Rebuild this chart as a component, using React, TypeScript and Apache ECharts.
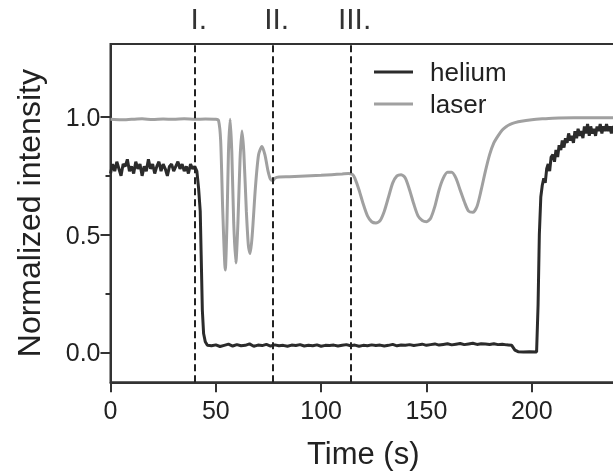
import React, { useEffect, useRef } from 'react';
import * as echarts from 'echarts';

// helium signal: [time (s), normalized intensity]
const heliumData: [number, number][] = [
  [0, 0.76], [1, 0.8], [2, 0.77], [3, 0.81], [4, 0.78], [5, 0.75], [6, 0.8], [7, 0.79], [8, 0.82], [9, 0.77],
  [10, 0.79], [11, 0.76], [12, 0.81], [13, 0.78], [14, 0.8], [15, 0.75], [16, 0.79], [17, 0.77], [18, 0.82], [19, 0.78],
  [20, 0.8], [21, 0.76], [22, 0.79], [23, 0.81], [24, 0.77], [25, 0.8], [26, 0.78], [27, 0.75], [28, 0.79], [29, 0.8],
  [30, 0.77], [31, 0.79], [32, 0.81], [33, 0.78], [34, 0.8], [35, 0.77], [36, 0.79], [37, 0.76], [38, 0.8], [39, 0.78],
  [40, 0.79], [41, 0.77], [41.8, 0.7], [42.6, 0.6], [43.2, 0.35], [43.6, 0.18], [44.2, 0.08], [45, 0.045], [46, 0.03],
  [48, 0.028], [50, 0.032], [52, 0.025], [54, 0.03], [56, 0.035], [58, 0.027], [60, 0.033], [62, 0.028], [64, 0.03],
  [66, 0.036], [68, 0.026], [70, 0.031], [72, 0.029], [74, 0.034], [76, 0.027], [78, 0.032], [80, 0.028], [82, 0.03],
  [84, 0.026], [86, 0.031], [88, 0.029], [90, 0.033], [92, 0.027], [94, 0.03], [96, 0.028], [98, 0.032], [100, 0.026],
  [102, 0.03], [104, 0.029], [106, 0.031], [108, 0.027], [110, 0.03], [112, 0.033], [114, 0.028], [116, 0.031],
  [118, 0.026], [120, 0.03], [122, 0.028], [124, 0.032], [126, 0.029], [128, 0.031], [130, 0.027], [132, 0.03],
  [134, 0.034], [136, 0.028], [138, 0.031], [140, 0.03], [142, 0.033], [144, 0.029], [146, 0.032], [148, 0.035],
  [150, 0.03], [152, 0.033], [154, 0.036], [156, 0.031], [158, 0.034], [160, 0.037], [162, 0.032], [164, 0.035],
  [166, 0.038], [168, 0.033], [170, 0.036], [172, 0.039], [174, 0.034], [176, 0.037], [178, 0.036], [180, 0.034],
  [182, 0.037], [184, 0.033], [186, 0.035], [188, 0.032], [190.5, 0.03], [192, 0.01], [193.5, 0.003], [196, 0.002],
  [199, 0.003], [202.3, 0.002], [203, 0.2], [203.6, 0.5], [204.3, 0.66], [205, 0.71], [205.7, 0.74], [206.4, 0.72],
  [207.1, 0.78], [207.8, 0.8], [208.5, 0.77], [209.2, 0.83], [210, 0.84], [210.8, 0.81], [211.5, 0.86], [212.3, 0.83],
  [213, 0.88], [213.8, 0.86], [214.5, 0.9], [215.3, 0.87], [216, 0.91], [216.8, 0.89], [217.5, 0.93], [218.3, 0.9],
  [219, 0.92], [219.8, 0.89], [220.5, 0.94], [221.3, 0.91], [222, 0.95], [222.8, 0.92], [223.5, 0.94], [224.3, 0.91],
  [225, 0.96], [225.8, 0.93], [226.5, 0.97], [227.3, 0.92], [228, 0.96], [228.8, 0.93], [229.5, 0.95], [230.3, 0.92],
  [231, 0.96], [231.8, 0.94], [232.5, 0.97], [233.3, 0.93], [234, 0.96], [234.8, 0.94], [235.5, 0.97], [236.3, 0.94],
  [237, 0.96], [237.8, 0.93], [238.5, 0.96], [239.3, 0.95], [240, 0.94],
];

// laser signal: [time (s), normalized intensity]
const laserData: [number, number][] = [
  [0, 0.99], [5, 0.988], [10, 0.99], [15, 0.992], [20, 0.989], [25, 0.991], [30, 0.99], [35, 0.992], [40, 0.99],
  [45, 0.991], [50, 0.99], [51.3, 0.985], [52.3, 0.9], [53.3, 0.6], [54.5, 0.35], [55.3, 0.55], [56, 0.85],
  [56.8, 0.99], [57.6, 0.85], [58.5, 0.55], [59.5, 0.38], [60.5, 0.55], [61.5, 0.82], [62.4, 0.94], [63.3, 0.85],
  [64.5, 0.6], [65.5, 0.45], [66.3, 0.42], [67.3, 0.5], [68.8, 0.7], [70.3, 0.84], [71.9, 0.875], [73.3, 0.84],
  [74.8, 0.77], [76, 0.735], [77.1, 0.73], [78, 0.74], [80, 0.745], [85, 0.746], [90, 0.748], [95, 0.75],
  [100, 0.752], [105, 0.755], [110, 0.758], [113, 0.76], [115, 0.755], [116, 0.74], [118, 0.69], [120, 0.63],
  [122, 0.58], [124, 0.555], [126, 0.55], [128, 0.56], [130, 0.6], [132, 0.66], [134, 0.72], [136, 0.75],
  [138, 0.755], [140, 0.74], [142, 0.69], [144, 0.63], [146, 0.58], [148, 0.56], [150, 0.555], [152, 0.57],
  [154, 0.62], [156, 0.69], [158, 0.74], [160, 0.765], [162, 0.765], [164, 0.74], [166, 0.69], [168, 0.64],
  [170, 0.6], [172, 0.595], [174, 0.62], [176, 0.69], [178, 0.77], [180, 0.84], [182, 0.89], [184, 0.92],
  [186, 0.945], [188, 0.96], [190, 0.97], [192, 0.976], [195, 0.982], [200, 0.988], [205, 0.992], [210, 0.995],
  [220, 0.997], [240, 0.997],
];

const markerTimes = [40, 77, 114];
const markerNames = ['I.', 'II.', 'III.'];
const xTickValues = [0, 50, 100, 150, 200];
const yLabelValues = [0, 0.5, 1];
const yMinorValues = [0.25, 0.75];

const FONT = '"Liberation Sans", Arial, Helvetica, sans-serif';
const INK = '#222';

export default function App() {
  const ref = useRef<HTMLDivElement>(null);
  useEffect(() => {
    if (!ref.current) return;
    const chart = echarts.init(ref.current, undefined, { renderer: 'svg' });
    const yRange = { min: -0.127, max: 1.31 };
    chart.setOption({
      animation: false,
      textStyle: { fontFamily: FONT },
      grid: {
        left: 110.5,
        right: -3,
        top: 44,
        bottom: 91.7,
        containLabel: false,
        outerBoundsMode: 'none',
        show: true,
        borderColor: '#333',
        borderWidth: 2,
        backgroundColor: 'transparent',
      },
      legend: {
        data: ['helium', 'laser'],
        orient: 'vertical',
        left: 374,
        top: 58,
        padding: 0,
        itemGap: 4,
        icon: 'rect',
        itemWidth: 39,
        itemHeight: 3,
        textStyle: { fontSize: 26, color: INK, fontFamily: FONT, lineHeight: 28, padding: [0, 0, 0, 12] },
      },
      xAxis: {
        type: 'value',
        min: 0,
        max: 240,
        name: 'Time (s)',
        nameLocation: 'middle',
        nameGap: 56,
        nameTextStyle: { fontSize: 31, color: INK, fontFamily: FONT },
        splitLine: { show: false },
        axisLine: { show: true, onZero: false, lineStyle: { color: '#333', width: 2 } },
        axisTick: { show: true, length: 10, customValues: xTickValues, lineStyle: { color: '#333', width: 2 } },
        axisLabel: { customValues: xTickValues, fontSize: 25, color: INK, margin: 15, fontFamily: FONT },
      },
      yAxis: [
        {
          type: 'value',
          ...yRange,
          name: 'Normalized intensity',
          nameLocation: 'middle',
          nameGap: 66,
          nameTextStyle: { fontSize: 32, color: INK, fontFamily: FONT },
          splitLine: { show: false },
          axisLine: { show: true, onZero: false, lineStyle: { color: '#333', width: 2 } },
          axisTick: { show: true, length: 10, customValues: yLabelValues, lineStyle: { color: '#333', width: 2 } },
          axisLabel: {
            customValues: yLabelValues,
            fontSize: 25,
            color: INK,
            margin: 10,
            fontFamily: FONT,
            formatter: (v: number) => v.toFixed(1),
          },
        },
        {
          type: 'value',
          ...yRange,
          position: 'left',
          splitLine: { show: false },
          axisLine: { show: false, onZero: false },
          axisTick: { show: true, length: 5, customValues: yMinorValues, lineStyle: { color: '#333', width: 2 } },
          axisLabel: { show: false },
        },
      ],
      series: [
        {
          name: 'helium',
          type: 'line',
          data: heliumData,
          symbol: 'none',
          z: 3,
          lineStyle: { color: '#2b2b2b', width: 3 },
          itemStyle: { color: '#2b2b2b' },
          markLine: {
            silent: true,
            symbol: 'none',
            animation: false,
            lineStyle: { type: [7, 4], color: '#222', width: 2 },
            label: {
              show: true,
              position: 'end',
              distance: 11,
              fontSize: 30,
              color: '#333',
              fontFamily: FONT,
              padding: [0, 0, 0, 8],
              formatter: (p: any) => p.name,
            },
            data: markerTimes.map((t, i) => ({ xAxis: t, name: markerNames[i] })),
          },
        },
        {
          name: 'laser',
          type: 'line',
          data: laserData,
          symbol: 'none',
          smooth: 0.25,
          z: 2,
          lineStyle: { color: '#a0a0a0', width: 3 },
          itemStyle: { color: '#a0a0a0' },
        },
      ],
    });
    return () => chart.dispose();
  }, []);
  return <div ref={ref} style={{ position: 'fixed', left: 0, top: 0, width: 613, height: 474 }} />;
}
